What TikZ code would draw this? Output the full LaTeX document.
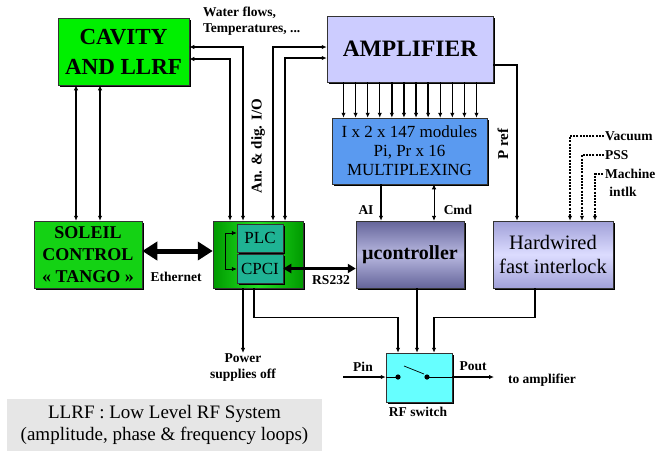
\documentclass[tikz,border=0pt]{standalone}
\usepackage{fontspec}
\setmainfont{Liberation Serif}
\usetikzlibrary{arrows.meta,shadows,calc}
\definecolor{cavgreen}{HTML}{00F000}
\definecolor{solgreen}{HTML}{14D214}
\definecolor{plcdark}{HTML}{009A00}
\definecolor{plcmid}{HTML}{22E022}
\definecolor{tealbox}{HTML}{1FB394}
\definecolor{ampcol}{HTML}{CCCCFF}
\definecolor{muxcol}{HTML}{5A9AF0}
\definecolor{mudark}{HTML}{64649A}
\definecolor{mulight}{HTML}{B8B8E0}
\definecolor{hwdark}{HTML}{A0A0D8}
\definecolor{hwlight}{HTML}{DCDCFF}
\definecolor{rfcyan}{HTML}{66FFFF}
\definecolor{grayfill}{HTML}{E6E6E6}
\begin{document}
\begin{tikzpicture}[x=1pt,y=-1pt,
  >={Latex[length=5pt,width=4.5pt]},
  conn/.style={line width=1.4pt},
  thinconn/.style={line width=0.8pt},
  box/.style={draw=black!80, line width=0.5pt, inner sep=1pt, align=center,
    drop shadow={shadow xshift=1.6pt,shadow yshift=-1.6pt,opacity=1,fill=black}},
  lbl/.style={font=\bfseries\fontsize{13.5}{16}\selectfont, inner sep=1pt, align=center},
  dashconn/.style={line width=1.3pt, dash pattern=on 2pt off 1.2pt}
]
\useasboundingbox (0,0) rectangle (657,451);

% boxes
\node (cav) [box, fill=cavgreen, minimum width=131pt, minimum height=67pt,
  font=\bfseries\fontsize{23}{30}\selectfont] at (123.5,51.5) {CAVITY\\AND LLRF};
\node (amp) [box, fill=ampcol, minimum width=166pt, minimum height=66pt,
  font=\bfseries\fontsize{23.5}{28}\selectfont] at (410,49) {AMPLIFIER};
\node (mux) [box, fill=muxcol, minimum width=155pt, minimum height=66pt,
  font=\fontsize{17}{19}\selectfont] at (409.5,151) {I x 2 x 147 modules\\Pi, Pr x 16\\MULTIPLEXING};
\node (sol) [box, fill=solgreen, minimum width=108pt, minimum height=67pt,
  font=\bfseries\fontsize{18}{22}\selectfont] at (88,254.5) {SOLEIL\\CONTROL\\« TANGO »};
\node (plcbox) [box, left color=plcdark, right color=plcdark, middle color=plcmid,
  minimum width=90pt, minimum height=67pt] at (258,254.5) {};
\node (plc) [box, fill=tealbox, minimum width=46pt, minimum height=28pt,
  drop shadow={shadow xshift=1pt,shadow yshift=-1pt,opacity=1,fill=black!70},
  font=\fontsize{17}{19}\selectfont] at (260,238) {PLC};
\node (cpci) [box, fill=tealbox, minimum width=46pt, minimum height=29pt,
  drop shadow={shadow xshift=1pt,shadow yshift=-1pt,opacity=1,fill=black!70},
  font=\fontsize{17}{19}\selectfont] at (260,268.5) {CPCI};
\node (mu) [box, top color=mudark, bottom color=mudark, middle color=mulight,
  minimum width=108pt, minimum height=67pt,
  font=\bfseries\fontsize{20}{24}\selectfont] at (410,254.5) {µcontroller};
\node (hw) [box, top color=hwdark, bottom color=hwdark, middle color=hwlight,
  minimum width=120pt, minimum height=67pt,
  font=\fontsize{20.5}{24}\selectfont] at (553,254.5) {Hardwired\\fast interlock};
\node (rf) [box, fill=rfcyan, minimum width=66pt, minimum height=49pt] at (419,377.5) {};
\node (llrf) [fill=grayfill, minimum width=315pt, minimum height=52pt, inner sep=1pt,
  align=center, font=\fontsize{19}{22}\selectfont] at (164.5,425)
  {LLRF : Low Level RF System\\(amplitude, phase \& frequency loops)};

% labels
\node (water) [lbl, align=left, anchor=west] at (202,21.5) {Water flows,\\Temperatures, ...};
\node (anio) [lbl, rotate=90, font=\bfseries\fontsize{15}{17}\selectfont] at (258,146) {An. \& dig. I/O};
\node (pref) [lbl, rotate=90, font=\bfseries\fontsize{15}{17}\selectfont] at (503,144) {P ref};
\node (ai) [lbl] at (366,210) {AI};
\node (cmd) [lbl] at (458,210) {Cmd};
\node (eth) [lbl] at (176,277) {Ethernet};
\node (rs) [lbl] at (331,280) {RS232};
\node (pw) [lbl] at (243,368) {Power\\supplies off};
\node (pinl) [lbl] at (363,367) {Pin};
\node (poutl) [lbl] at (473,366) {Pout};
\node (toamp) [lbl] at (542,380) {to amplifier};
\node (rfl) [lbl] at (418,412) {RF switch};
\node (vac) [lbl, anchor=west] at (604,136) {Vacuum};
\node (pss) [lbl, anchor=west] at (604,155) {PSS};
\node (mach) [lbl, anchor=west] at (604,174) {Machine};
\node (intlk) [lbl] at (623,192) {intlk};

% cavity <-> soleil
\draw[conn,<->] ([xshift=-12pt]sol.north |- cav.south) -- ([xshift=-12pt]sol.north);
\draw[conn,<->] ([xshift=12pt]sol.north |- cav.south) -- ([xshift=12pt]sol.north);
% cavity <-> plc
\draw[conn,<->] ([yshift=4.5pt]cav.east) -| ([xshift=-15pt]plcbox.north);
\draw[conn,<->] ([yshift=-7.5pt]cav.east) -| ([xshift=-28pt]plcbox.north);
% amplifier <-> plc
\draw[conn,<->] ([yshift=2pt]amp.west) -| ([xshift=15pt]plcbox.north);
\draw[conn,<->] ([yshift=-9pt]amp.west) -| ([xshift=27pt]plcbox.north);
% amplifier -> mux
\foreach \i in {0,...,11}{
  \draw[conn,->] ([xshift={-66.5pt+\i*12.09pt}]amp.south) -- ([xshift={-66.5pt+\i*12.09pt}]amp.south |- mux.north);
}
% P ref
\draw[conn,->] ([yshift=-16pt]amp.east) -| ([xshift=-36pt]hw.north);
% AI, Cmd
\draw[conn,->] ([xshift=-29pt]mu.north |- mux.south) -- ([xshift=-29pt]mu.north);
\draw[thinconn,<->] ([xshift=24pt]mu.north |- mux.south) -- ([xshift=24pt]mu.north);
% Ethernet
\draw[line width=5pt, {Triangle[length=15pt,width=18pt]}-{Triangle[length=15pt,width=18pt]}]
  ([yshift=3.5pt]sol.east) -- ([yshift=3.5pt]sol.east -| plcbox.west);
% RS232
\draw[line width=2.4pt, {Triangle[length=8pt,width=9pt]}-{Triangle[length=8pt,width=9pt]}]
  (cpci.east) -- (cpci.east -| mu.west);
% PLC <-> CPCI loop
\draw[thinconn,<->] ([yshift=5pt]plc.west) -- ++(-11,0) |- ([yshift=-0.5pt]cpci.west);
% power supplies
\draw[conn,->] ([xshift=-15pt]plcbox.south) -- (pw.north);
% to RF switch
\draw[conn,->] ([xshift=-4pt]plcbox.south) -- ++(0,29) -| ([xshift=-21pt]rf.north);
\draw[conn,->] ([xshift=-2pt]rf.north |- mu.south) -- ([xshift=-2pt]rf.north);
\draw[conn,->] ([xshift=-18pt]hw.south) -- ++(0,29) -| ([xshift=15pt]rf.north);
% interlock inputs
\draw[dashconn,->] (vac.west) -| ([xshift=17pt]hw.north);
\draw[dashconn,->] (pss.west) -| ([xshift=29pt]hw.north);
\draw[dashconn,->] ([xshift=-1pt]mach.west) -| ([xshift=42pt]hw.north);
% RF switch internals
\coordinate (d1) at (398,377);
\coordinate (d2) at (427,377);
\coordinate (pin) at (343,377);
\coordinate (pout) at (494,377);
\draw[conn,->] (pin) -- (pin -| rf.west);
\draw[thinconn] (pin -| rf.west) -- (d1);
\draw[thinconn] (d2) -- (d2 -| rf.east);
\draw[conn,->] (d2 -| rf.east) -- (pout);
\draw[line width=0.7pt] (404,366) -- (424,374);
\fill (d1) circle (2.6pt);
\fill (d2) circle (2.6pt);
\end{tikzpicture}
\end{document}
